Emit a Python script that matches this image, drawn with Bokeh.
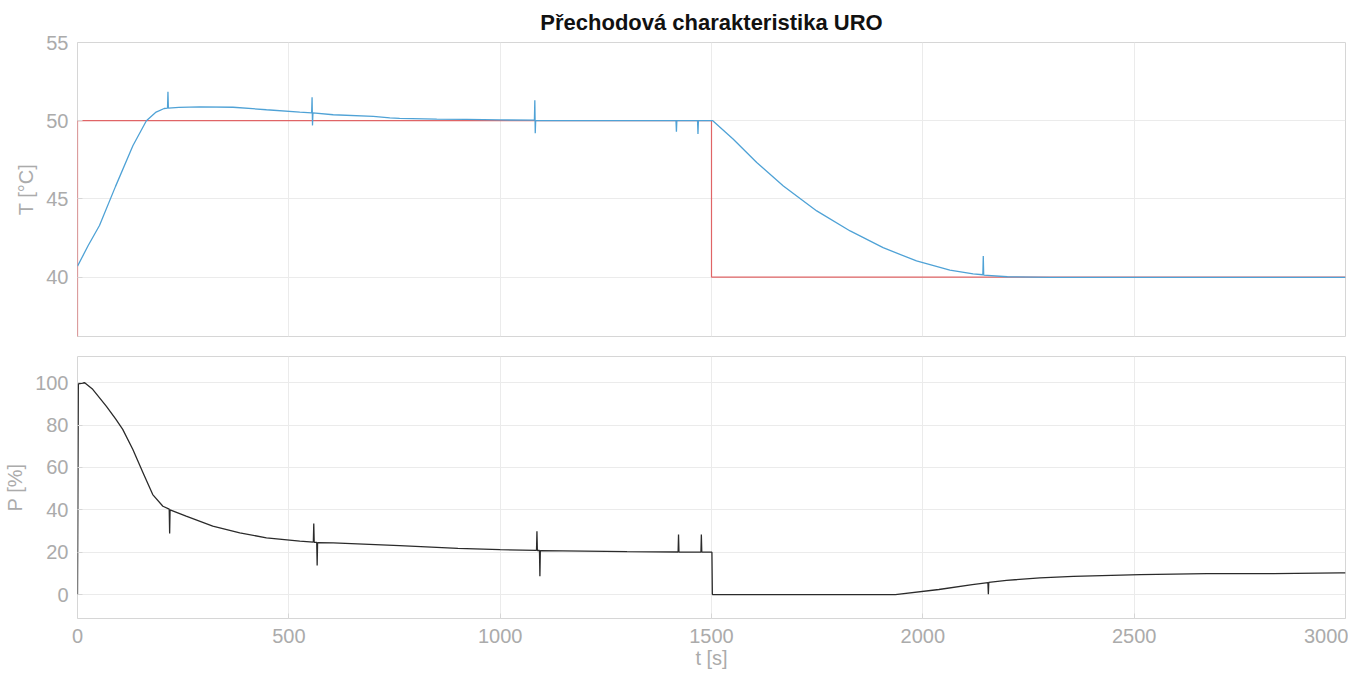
from bokeh.plotting import figure
from bokeh.layouts import column
from bokeh.models import Range1d, FixedTicker
from bokeh.embed import file_html
from bokeh.resources import INLINE

# ---- data ----
temp_t = [0, 25, 52, 90, 131, 163, 186, 205, 213, 214, 215, 240, 289, 368, 447, 526,
          554, 555, 556, 557, 605, 700, 739, 762, 850, 920, 1000,
          1081, 1082, 1083, 1084, 1200, 1416, 1417, 1418, 1467, 1468, 1469,
          1503, 1551, 1607, 1670, 1749, 1828, 1906, 1985, 2064, 2119,
          2142, 2143, 2144, 2200, 2300, 2500, 2700, 3000]
temp_v = [40.7, 42.0, 43.3, 45.8, 48.4, 50.0, 50.55, 50.78, 50.8, 51.85, 50.8, 50.85, 50.88, 50.86, 50.7, 50.55,
          50.5, 51.5, 49.7, 50.5, 50.38, 50.28, 50.18, 50.15, 50.1, 50.08, 50.05,
          50.03, 51.3, 49.2, 50.02, 50.0, 50.0, 49.3, 50.0, 50.0, 49.15, 50.0,
          50.0, 48.83, 47.33, 45.83, 44.23, 42.95, 41.88, 41.03, 40.45, 40.2,
          40.15, 41.35, 40.12, 40.02, 39.98, 39.98, 39.98, 39.98]

setpoint_t = [0, 0, 1500, 1500, 3000]
setpoint_v = [0, 50, 50, 40, 40]

power_t = [0, 2, 17, 36, 68, 91, 107, 131, 155, 178, 202, 217, 218, 219, 257, 320, 384, 447, 526,
           558, 559, 560, 566, 567, 568, 605, 762, 900, 1000,
           1086, 1087, 1088, 1093, 1094, 1095, 1200, 1300, 1421, 1422, 1423, 1475, 1476, 1477,
           1501, 1502, 1935, 2038, 2117, 2154, 2155, 2156, 2198, 2277, 2356, 2514, 2672, 2830, 2987, 3000]
power_v = [0, 99.5, 100, 96.9, 89, 82.7, 78, 68.5, 57.5, 47.2, 41.7, 40.3, 28.8, 40.0, 37, 32.3, 29.1, 26.8, 25.2,
           24.8, 33.5, 24.7, 24.6, 13.7, 24.5, 24.4, 23.1, 21.8, 21.2,
           20.9, 29.9, 20.8, 20.8, 8.6, 20.7, 20.5, 20.3, 20.1, 28.3, 20.1, 20.0, 28.3, 20.0,
           20.0, 0.0, 0.0, 2.4, 4.7, 5.6, 0.2, 5.8, 6.7, 7.9, 8.6, 9.4, 9.9, 9.9, 10.2, 10.2]

x_ticks = [0, 500, 1000, 1500, 2000, 2500, 3000]
temp_ticks = [40, 45, 50, 55]
power_ticks = [0, 20, 40, 60, 80, 100]

title_text = "Přechodová charakteristika URO"
temp_label = "T [°C]"
power_label = "P [%]"
time_label = "t [s]"

FONT = "Liberation Sans"
LABEL_COLOR = "#ababab"
GRID_COLOR = "#ebebeb"
BOX_COLOR = "#d6d6d6"


def style(p, yticks):
    p.xaxis.ticker = FixedTicker(ticks=x_ticks)
    p.yaxis.ticker = FixedTicker(ticks=yticks)
    for ax in (p.xaxis[0], p.yaxis[0]):
        ax.axis_line_color = None
        ax.major_tick_line_color = BOX_COLOR
        ax.major_tick_in = 5
        ax.major_tick_out = 0
        ax.minor_tick_line_color = None
        ax.major_label_text_font = FONT
        ax.major_label_text_font_size = "20px"
        ax.major_label_text_color = LABEL_COLOR
        ax.major_label_standoff = 9
        ax.axis_label_text_font = FONT
        ax.axis_label_text_font_size = "20px"
        ax.axis_label_text_font_style = "normal"
        ax.axis_label_text_color = LABEL_COLOR
        ax.axis_label_standoff = 6
    p.xgrid.grid_line_color = GRID_COLOR
    p.ygrid.grid_line_color = GRID_COLOR
    p.outline_line_color = BOX_COLOR
    p.outline_line_width = 1
    p.background_fill_color = "white"
    p.border_fill_color = "white"


top = figure(frame_width=1268, frame_height=294, output_backend="svg", toolbar_location=None,
             x_range=Range1d(0, 3000), y_range=Range1d(36.2, 55),
             min_border_left=77, min_border_right=3, min_border_bottom=10, min_border_top=0,
             title=title_text)
top.title.text_font = FONT
top.title.text_font_size = "22px"
top.title.text_font_style = "bold"
top.title.text_color = "#111111"
top.title.align = "center"
top.title.standoff = 15
style(top, temp_ticks)
top.xaxis.visible = False
top.yaxis.axis_label = temp_label
top.line(setpoint_t, setpoint_v, line_color="#e06466", line_width=1.2)
top.line(temp_t, temp_v, line_color="#4fa2d6", line_width=1.3)

bot = figure(frame_width=1268, frame_height=262, output_backend="svg", toolbar_location=None,
             x_range=Range1d(0, 3000), y_range=Range1d(-11.3, 112.4),
             min_border_left=77, min_border_right=3, min_border_top=10, min_border_bottom=0)
style(bot, power_ticks)
bot.xaxis.major_label_standoff = 10
bot.xaxis.axis_label_standoff = 1
bot.yaxis.axis_label = power_label
bot.xaxis.axis_label = time_label
bot.line(power_t, power_v, line_color="#2b2b2b", line_width=1.3)

layout = column(top, bot, spacing=0)
open("out.html", "w").write(file_html(layout, INLINE))
